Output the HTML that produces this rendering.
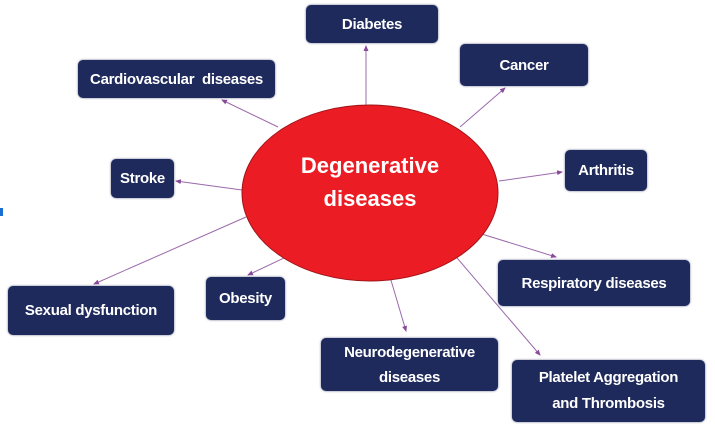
<!DOCTYPE html>
<html><head><meta charset="utf-8"><style>
html,body{margin:0;padding:0;background:#fff;width:715px;height:434px;overflow:hidden;position:relative;font-family:"Liberation Sans",sans-serif}
.b{position:absolute;background:#1f2a5c;color:#fff;border-radius:5px;box-shadow:0 0 2px #6a7090;font-weight:bold;font-size:15px;display:flex;align-items:center;justify-content:center;text-align:center;line-height:27px;letter-spacing:-0.3px}
svg{position:absolute;left:0;top:0}
</style></head><body>
<svg width="715" height="434">
<defs><marker id="a" markerWidth="6" markerHeight="6" refX="5" refY="3" orient="auto"><path d="M0,0.5 L6,3 L0,5.5z" fill="#8a4a9a"/></marker></defs>
<g stroke="#9a6aaa" stroke-width="1" marker-end="url(#a)">
<line x1="366" y1="105" x2="366" y2="46"/>
<line x1="278" y1="127" x2="222" y2="100"/>
<line x1="460" y1="127" x2="505" y2="88"/>
<line x1="242" y1="190" x2="176" y2="181"/>
<line x1="499" y1="181" x2="562" y2="172"/>
<line x1="246" y1="217" x2="94" y2="284"/>
<line x1="303" y1="249" x2="248" y2="275"/>
<line x1="385" y1="260" x2="406" y2="331"/>
<line x1="446" y1="245" x2="540" y2="355"/>
<line x1="472" y1="231" x2="556" y2="257"/>
</g>
<ellipse cx="370" cy="193" rx="128" ry="88" fill="#ec1c24" stroke="#a01418" stroke-width="1"/>
<text x="370" y="173" text-anchor="middle" fill="#fff" font-family="Liberation Sans" font-weight="bold" font-size="22">Degenerative</text>
<text x="370" y="206" text-anchor="middle" fill="#fff" font-family="Liberation Sans" font-weight="bold" font-size="22">diseases</text>
<rect x="0" y="208" width="3" height="8" fill="#1a6fd0"/>
</svg>
<div class="b" style="left:306px;top:5px;width:132px;height:38px">Diabetes</div>
<div class="b" style="left:78px;top:60px;width:197px;height:38px">Cardiovascular&nbsp; diseases</div>
<div class="b" style="left:460px;top:44px;width:128px;height:42px">Cancer</div>
<div class="b" style="left:111px;top:159px;width:63px;height:39px">Stroke</div>
<div class="b" style="left:565px;top:150px;width:82px;height:41px">Arthritis</div>
<div class="b" style="left:8px;top:286px;width:166px;height:49px">Sexual dysfunction</div>
<div class="b" style="left:206px;top:277px;width:79px;height:43px">Obesity</div>
<div class="b" style="left:498px;top:260px;width:192px;height:46px">Respiratory diseases</div>
<div class="b" style="left:321px;top:338px;width:177px;height:53px;line-height:25px">Neurodegenerative<br>diseases</div>
<div class="b" style="left:512px;top:360px;width:193px;height:62px;line-height:26px">Platelet Aggregation<br>and Thrombosis</div>
</body></html>
